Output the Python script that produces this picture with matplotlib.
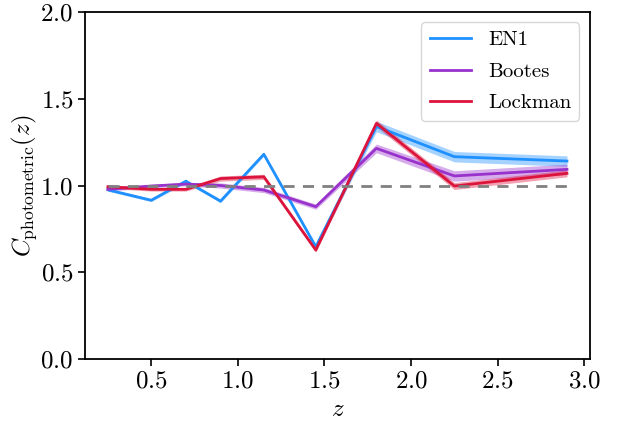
import numpy as np
import matplotlib
matplotlib.use('Agg')
import matplotlib.pyplot as plt

plt.rcParams['font.family'] = 'serif'
plt.rcParams['font.serif'] = ['cmr10']
plt.rcParams['mathtext.fontset'] = 'cm'
plt.rcParams['axes.formatter.use_mathtext'] = True

# redshift bin centres
z = [0.25, 0.5, 0.7, 0.9, 1.15, 1.45, 1.8, 2.25, 2.9]

# photometric correction per field, with 1-sigma half widths
en1 = [0.975, 0.915, 1.025, 0.91, 1.18, 0.647, 1.34, 1.166, 1.141]
en1_err = [0.008, 0.008, 0.008, 0.01, 0.01, 0.012, 0.03, 0.03, 0.03]
bootes = [0.978, 0.997, 1.008, 1.0, 0.974, 0.878, 1.214, 1.055, 1.093]
bootes_err = [0.01, 0.01, 0.01, 0.015, 0.015, 0.015, 0.025, 0.03, 0.03]
lockman = [0.993, 0.978, 0.978, 1.04, 1.05, 0.628, 1.358, 0.997, 1.07]
lockman_err = [0.01, 0.01, 0.01, 0.015, 0.015, 0.012, 0.02, 0.02, 0.02]

fields = [
    ('EN1', en1, en1_err, '#1E90FF'),
    ('Bootes', bootes, bootes_err, '#9932CC'),
    ('Lockman', lockman, lockman_err, '#DC143C'),
]

fig = plt.figure(figsize=(6.19, 4.24), dpi=100)
ax = fig.add_axes([0.1373, 0.1533, 0.8157, 0.8184])

for name, vals, err, col in fields:
    vals = np.array(vals)
    err = np.array(err)
    ax.fill_between(z, vals - err, vals + err, color=col, alpha=0.4, lw=0)
    ax.plot(z, vals, color=col, lw=2, label=name)

ax.plot(z, np.ones(len(z)), ls='--', color='grey', lw=2, dashes=(4, 3))

ax.set_ylim(0, 2)
ax.set_xticks([0.5, 1.0, 1.5, 2.0, 2.5, 3.0])
ax.set_yticks([0.0, 0.5, 1.0, 1.5, 2.0])
ax.tick_params(labelsize=18, width=1.2, length=5)
for sp in ax.spines.values():
    sp.set_linewidth(1.3)

ax.set_xlabel(r'$z$', fontsize=18)
ax.set_ylabel(r'$C_{\rm photometric}(z)$', fontsize=18, labelpad=1)
ax.legend(loc='upper right', fontsize=15, labelspacing=0.62)

fig.savefig('out.png', dpi=100)
